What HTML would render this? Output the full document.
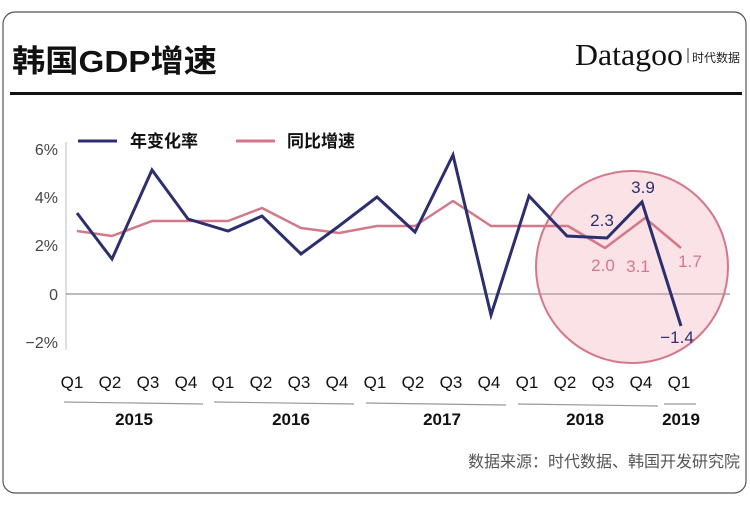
<!DOCTYPE html>
<html><head><meta charset="utf-8"><style>
body{margin:0;background:#fff;}
svg text{font-family:"Liberation Sans","Noto Sans CJK SC",sans-serif;}
</style></head><body>
<svg width="750" height="504" xmlns="http://www.w3.org/2000/svg">
<rect x="3" y="12" width="743" height="481" rx="12" fill="#fff" stroke="#555" stroke-width="1.2"/>
<text x="12" y="72" font-size="31" font-weight="bold" fill="#111" textLength="205" lengthAdjust="spacingAndGlyphs">韩国GDP增速</text>
<text x="575" y="65" font-size="31" fill="#111" style="font-family:'Liberation Serif',serif" textLength="108" lengthAdjust="spacingAndGlyphs">Datagoo</text>
<line x1="688" y1="48" x2="688" y2="63" stroke="#333" stroke-width="1"/>
<text x="692" y="62" font-size="12" fill="#222">时代数据</text>
<rect x="10" y="92" width="732" height="3" fill="#111"/>
<line x1="78" y1="141" x2="117" y2="141" stroke="#2c2f6e" stroke-width="3"/>
<text x="130" y="147" font-size="17" font-weight="bold" fill="#111">年变化率</text>
<line x1="236" y1="141" x2="275" y2="141" stroke="#d3788a" stroke-width="3"/>
<text x="287" y="147" font-size="17" font-weight="bold" fill="#111">同比增速</text>
<g font-size="16" fill="#444" text-anchor="end">
<text x="58" y="155">6%</text><text x="58" y="203">4%</text><text x="58" y="251">2%</text><text x="58" y="300">0</text><text x="58" y="348">−2%</text>
</g>
<line x1="66" y1="142" x2="66" y2="350" stroke="#bbb" stroke-width="1"/>
<line x1="66" y1="294" x2="730" y2="294" stroke="#777" stroke-width="1"/>
<circle cx="632" cy="267" r="96" fill="rgba(240,150,165,0.28)" stroke="#d3788a" stroke-width="2"/>
<polyline fill="none" stroke="#d3788a" stroke-width="2.5" stroke-linejoin="round" points="77,231 112,236 152,221 188,221 228,221 262,208 301,228 339,233 377,226 415,226 453,201 491,226 528,226 568,226 605,248 645,218 681,248"/>
<polyline fill="none" stroke="#2c2f6e" stroke-width="3" stroke-linejoin="miter" points="77,213 112,259 152,170 188,219 228,231 262,216 301,254 339,226 377,197 415,232 453,155 491,315 529,196 567,236 607,238 642,202 681,326"/>
<g font-size="17" text-anchor="middle">
<text x="643" y="193" fill="#2c2f6e">3.9</text>
<text x="602" y="226" fill="#2c2f6e">2.3</text>
<text x="638" y="272" fill="#d3788a">3.1</text>
<text x="603" y="271" fill="#d3788a">2.0</text>
<text x="690" y="267" fill="#d3788a">1.7</text>
<text x="677" y="343" fill="#2c2f6e">−1.4</text>
</g>
<g font-size="17" fill="#111" text-anchor="middle">
<text x="72" y="388">Q1</text><text x="110" y="388">Q2</text><text x="148" y="388">Q3</text><text x="186" y="388">Q4</text>
<text x="223" y="388">Q1</text><text x="261" y="388">Q2</text><text x="299" y="388">Q3</text><text x="337" y="388">Q4</text>
<text x="375" y="388">Q1</text><text x="413" y="388">Q2</text><text x="451" y="388">Q3</text><text x="489" y="388">Q4</text>
<text x="527" y="388">Q1</text><text x="565" y="388">Q2</text><text x="603" y="388">Q3</text><text x="641" y="388">Q4</text>
<text x="679" y="388">Q1</text>
</g>
<g stroke="#999" stroke-width="1.2">
<line x1="64" y1="402" x2="203" y2="404"/><line x1="214" y1="402" x2="354" y2="404"/>
<line x1="366" y1="403" x2="506" y2="405"/><line x1="518" y1="404" x2="658" y2="406"/>
<line x1="664" y1="404" x2="696" y2="404"/>
</g>
<g font-size="17" font-weight="bold" fill="#111" text-anchor="middle">
<text x="134" y="425">2015</text><text x="291" y="425">2016</text><text x="442" y="425">2017</text><text x="585" y="425">2018</text><text x="681" y="425">2019</text>
</g>
<text x="740" y="467" font-size="16" fill="#555" text-anchor="end">数据来源：时代数据、韩国开发研究院</text>
</svg>
</body></html>
